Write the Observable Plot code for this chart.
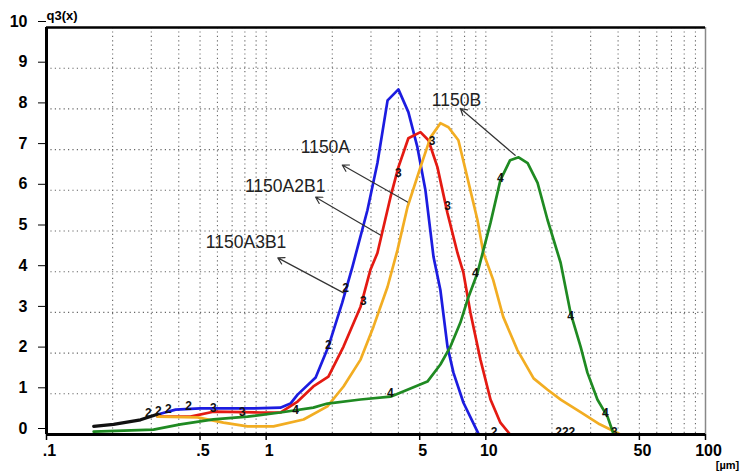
<!DOCTYPE html>
<html>
<head>
<meta charset="utf-8">
<script src="https://cdn.jsdelivr.net/npm/d3@7"></script>
<script src="https://cdn.jsdelivr.net/npm/@observablehq/plot@0.6"></script>
<style>
  html, body { margin: 0; padding: 0; background: #fff; }
  #chart svg { display: block; }
</style>
</head>
<body>
<div id="chart"></div>
<script>
// ---- data (x in µm, y = q3(x)) ----
const seriesNames = ["1150A3B1", "1150A2B1", "1150A", "1150B"];
const seriesColors = ["#1c1ce0", "#e41a12", "#f2ad22", "#1f8a22"];

const blue = [[0.32,0.49],[0.387,0.61],[0.502,0.64],[0.848,0.64],[1.16,0.66],[1.29,0.76],[1.39,0.98],[1.68,1.40],[1.92,2.16],[2.22,3.24],[2.47,4.12],[2.89,5.51],[3.21,6.67],[3.57,8.21],[4.00,8.48],[4.44,7.92],[4.88,7.06],[5.31,6.0],[5.78,4.36],[6.21,3.55],[6.69,2.16],[7.12,1.52],[7.91,0.78],[9.25,0.02]];
const red = [[0.32,0.44],[0.452,0.44],[0.575,0.56],[0.942,0.54],[1.16,0.54],[1.39,0.81],[1.64,1.18],[1.92,1.42],[2.25,2.16],[2.69,3.14],[2.98,4.04],[3.21,4.46],[3.68,5.83],[4.00,6.57],[4.44,7.28],[5.04,7.43],[5.48,7.23],[6.02,6.57],[6.69,5.44],[7.43,4.46],[7.91,3.97],[8.51,2.99],[9.45,1.84],[10.5,0.86],[11.65,0.29],[12.9,0.0]];
const orange = [[0.32,0.44],[0.487,0.42],[0.639,0.29],[0.822,0.20],[1.08,0.20],[1.48,0.37],[1.90,0.69],[2.25,1.18],[2.69,1.84],[3.08,2.65],[3.57,3.63],[3.96,4.53],[4.40,5.59],[5.04,6.57],[5.60,7.30],[6.21,7.65],[6.76,7.55],[7.50,7.23],[8.25,6.3],[9.16,5.27],[9.75,4.46],[10.8,3.80],[12.0,2.89],[13.9,2.08],[16.5,1.38],[19.1,1.10],[22.0,0.85],[27.0,0.55],[33.0,0.25],[41.0,0.0]];
const green = [[0.164,0.07],[0.307,0.12],[0.407,0.25],[0.575,0.37],[0.822,0.44],[1.16,0.54],[1.64,0.66],[1.90,0.76],[2.69,0.86],[3.68,0.93],[5.42,1.30],[6.21,1.72],[6.90,2.16],[7.66,2.75],[8.25,3.31],[9.16,3.97],[10.5,5.20],[11.65,6.25],[12.9,6.74],[14.1,6.81],[15.5,6.67],[17.2,6.18],[19.1,5.27],[21.9,4.22],[24.3,2.99],[27.0,2.16],[29.0,1.52],[32.2,0.86],[35.8,0.44],[38.1,0.02]];
const sharedStart = [[0.164,0.20],[0.202,0.25],[0.268,0.36],[0.32,0.50]];

// curve-point id glyphs drawn on the curves
const marks2 = [[0.291,0.47],[0.323,0.52],[0.359,0.57],[0.443,0.64],[1.92,2.14],[2.30,3.54]];
const marks3 = [[0.575,0.59],[0.78,0.50],[2.77,3.22],[4.0,6.36],[5.7,7.17],[6.69,5.55]];
const marks4 = [[1.36,0.54],[3.68,0.96],[8.97,3.91],[11.65,6.24],[24.3,2.87],[35.0,0.47]];
const bottomMarks = [[10.9,0.0,"2"],[23.0,0.0,"222"],[38.5,0.0,"3"]];

// annotations: label, label position, arrow start (on curve), arrow tip (near label)
const annLabels = ["1150B", "1150A", "1150A2B1", "1150A3B1"];
const annLabelX = [7.35, 1.86, 1.22, 0.81];
const annLabelY = [8.21, 7.06, 6.10, 4.71];
const annFromX = [13.6, 4.40, 3.31, 2.25];
const annFromY = [6.86, 5.71, 4.90, 3.48];
const annToX = [7.66, 2.22, 1.68, 1.13];
const annToY = [8.01, 6.62, 5.83, 4.34];

// axes
const xTicks = [0.1, 0.5, 1, 5, 10, 50, 100];
const xTickLabels = [".1", ".5", "1", "5", "10", "50", "100"];
const yTicks = [0,1,2,3,4,5,6,7,8,9,10];
const xGrid = [0.2,0.3,0.4,0.5,0.6,0.7,0.8,0.9,1,2,3,4,5,6,7,8,9,10,20,30,40,50,60,70,80,90];
const yGrid = [1,2,3,4,5,6,7,8,9];

// ---- build ----
const curves = [blue, red, orange, green];
const lineData = curves.flatMap((arr, i) => arr.map(([x, y]) => ({x, y, s: seriesNames[i]})));
const startData = sharedStart.map(([x, y]) => ({x, y}));
const glyphs = [
  ...marks2.map(([x, y]) => ({x, y, t: "2"})),
  ...marks3.map(([x, y]) => ({x, y, t: "3"})),
  ...marks4.map(([x, y]) => ({x, y, t: "4"})),
  ...bottomMarks.map(([x, y, t]) => ({x, y, t}))
];
const ann = annLabels.map((t, i) => ({
  t, lx: annLabelX[i], ly: annLabelY[i],
  x1: annFromX[i], y1: annFromY[i], x2: annToX[i], y2: annToY[i]
}));
const xTickData = xTicks.map((v, i) => ({v, label: xTickLabels[i]}));
const font = "'Liberation Sans', Arial, sans-serif";

const chart = Plot.plot({
  width: 744,
  height: 472,
  marginLeft: 46,
  marginRight: 39,
  marginTop: 27,
  marginBottom: 38,
  style: {background: "#fff", fontFamily: font, color: "#000", overflow: "visible"},
  x: {type: "log", domain: [0.1, 100], axis: null},
  y: {domain: [0, 10]},
  color: {domain: seriesNames, range: seriesColors},
  marks: [
    Plot.ruleX(xGrid, {stroke: "#666", strokeDasharray: "1.2,3.2", strokeWidth: 1.1}),
    Plot.ruleY(yGrid, {stroke: "#666", strokeDasharray: "1.2,3.2", strokeWidth: 1.1}),
    Plot.ruleX([100], {stroke: "#888", strokeWidth: 1.5}),
    Plot.ruleY([10], {stroke: "#000", strokeWidth: 2.5}),
    Plot.axisY({ticks: yTicks, tickSize: 8, tickPadding: 11, fontSize: 16, fontWeight: "bold", dy: -6, label: null, tickFormat: d => String(d)}),
    // x ticks and labels (drawn explicitly so every labelled tick shows on the log scale)
    Plot.ruleX(xTickData, {x: "v", y1: 0, y2: 0, insetBottom: -6, stroke: "#000", strokeWidth: 1.5}),
    Plot.text(xTickData, {x: "v", text: "label", frameAnchor: "bottom", dy: 16, dx: 3, lineAnchor: "middle", fontSize: 16, fontWeight: "bold"}),
    Plot.line(lineData, {x: "x", y: "y", z: "s", stroke: "s", strokeWidth: 2.7, strokeLinejoin: "round", strokeLinecap: "round"}),
    Plot.line(startData, {x: "x", y: "y", stroke: "#111", strokeWidth: 3.2}),
    Plot.text(glyphs, {x: "x", y: "y", text: "t", fontSize: 12, fontWeight: "bold", fill: "#111", dy: -2}),
    Plot.arrow(ann, {x1: "x1", y1: "y1", x2: "x2", y2: "y2", stroke: "#333", strokeWidth: 1.2, headLength: 9}),
    Plot.text(ann, {x: "lx", y: "ly", text: "t", fontSize: 17.5, fill: "#222"}),
    Plot.ruleY([0], {stroke: "#000", strokeWidth: 3}),
    Plot.ruleX([0.1], {stroke: "#000", strokeWidth: 3}),
    Plot.text(["q3(x)"], {frameAnchor: "top-left", dx: 0, dy: -12, textAnchor: "start", lineAnchor: "middle", fontSize: 13, fontWeight: "bold"}),
    Plot.text(["[µm]"], {frameAnchor: "bottom-right", dx: 22, dy: 31, textAnchor: "middle", lineAnchor: "middle", fontSize: 11, fontWeight: "bold"})
  ]
});
document.getElementById("chart").appendChild(chart);
</script>
</body>
</html>
